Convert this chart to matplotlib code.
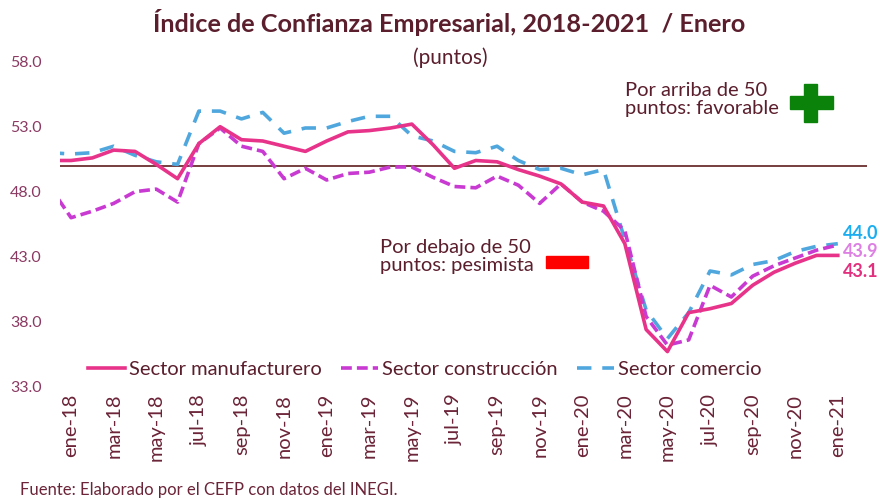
import numpy as np
import matplotlib.pyplot as plt
from matplotlib.patches import Rectangle

plt.rcParams['font.family'] = ['Lato', 'DejaVu Sans']

# Colores
GUINDA = '#5B1E2D'
ROSA = '#E8338A'
MORADO = '#C93AD2'
AZUL = '#4FA7DE'

meses = ['ene', 'feb', 'mar', 'abr', 'may', 'jun',
         'jul', 'ago', 'sep', 'oct', 'nov', 'dic']
# La serie arranca en dic-17, que queda recortado por el borde del eje
periodos = ['dic-17'] + ['%s-%d' % (m, a) for a in (18, 19, 20)
                         for m in meses] + ['ene-21']

manufacturero = [50.4, 50.4, 50.6, 51.2, 51.1, 50.1, 49.0, 51.7, 53.0, 52.0,
                 51.9, 51.5, 51.1, 51.9, 52.6, 52.7, 52.9, 53.2, 51.6, 49.8,
                 50.4, 50.3, 49.7, 49.2, 48.6, 47.2, 46.9, 44.0, 37.4, 35.7,
                 38.7, 39.0, 39.4, 40.8, 41.8, 42.5, 43.1, 43.1]
construccion = [48.4, 46.0, 46.5, 47.1, 48.0, 48.2, 47.2, 51.7, 52.9, 51.5,
                51.1, 49.0, 49.8, 48.9, 49.4, 49.5, 49.9, 49.9, 49.1, 48.4,
                48.3, 49.2, 48.5, 47.1, 48.6, 47.2, 46.5, 45.0, 38.4, 36.2,
                36.6, 40.8, 39.9, 41.5, 42.3, 42.9, 43.5, 43.9]
comercio = [51.0, 50.9, 51.0, 51.5, 50.8, 50.3, 50.1, 54.2, 54.2, 53.6,
            54.1, 52.5, 52.9, 52.9, 53.4, 53.8, 53.8, 52.3, 51.9, 51.1,
            51.0, 51.5, 50.4, 49.7, 49.8, 49.3, 49.7, 44.3, 38.9, 36.7,
            38.7, 41.9, 41.6, 42.4, 42.7, 43.4, 43.8, 44.0]

umbral = 50
y_ticks = [33, 38, 43, 48, 53, 58]

x = np.arange(len(periodos)) - 1

fig = plt.figure(figsize=(8.82, 5.0), dpi=100)
ax = fig.add_axes([60 / 882, 1 - 386.7 / 500, 807 / 882, 325 / 500])

# Linea de referencia en 50 puntos
ax.axhline(umbral, color='#6B2F2F', linewidth=1.3, zorder=1)

ax.plot(x, manufacturero, color=ROSA, linewidth=2.6, zorder=4,
        label='Sector manufacturero')
ax.plot(x, construccion, color=MORADO, linewidth=2.6, zorder=3,
        dashes=(3, 1.4), label='Sector construcción')
ax.plot(x, comercio, color=AZUL, linewidth=2.6, zorder=2,
        dashes=(4, 3), label='Sector comercio')

ax.set_xlim(-0.52, 37.37)
ax.set_ylim(33, 58)

ax.set_yticks(y_ticks)
ax.set_yticklabels(['%.1f' % v for v in y_ticks])
ax.set_xticks(x[1::2])
ax.set_xticklabels(periodos[1::2], rotation=90)
ax.tick_params(axis='y', length=0, pad=13, labelsize=11.5,
               labelcolor='#8B3A62')
ax.tick_params(axis='x', length=0, pad=5, labelsize=14.5,
               labelcolor='#6B2438')

for spine in ax.spines.values():
    spine.set_visible(False)

# Etiquetas de los valores finales
finales = [(comercio[-1], '#1AAEF0', 7.5),
           (construccion[-1], '#DD7FE3', -5),
           (manufacturero[-1], '#E2307E', -11.5)]
for valor, color, dy in finales:
    ax.annotate('%.1f' % valor, xy=(x[-1], valor), xytext=(4, dy),
                textcoords='offset points', ha='left', va='center',
                fontsize=13, fontweight='bold', color=color)

leg = ax.legend(loc='center', bbox_to_anchor=(0.452, 0.052), ncol=3,
                frameon=False, fontsize=14.5, handlelength=1.8,
                handletextpad=0.2, columnspacing=1.0)
for txt in leg.get_texts():
    txt.set_color(GUINDA)

# Titulos
fig.text(0.509, 0.955, 'Índice de Confianza Empresarial, 2018-2021  / Enero',
         ha='center', va='center', fontsize=18.2, fontweight='bold',
         color=GUINDA)
fig.text(0.51, 0.885, '(puntos)', ha='center', va='center', fontsize=15,
         color=GUINDA)

# Notas con simbolos
fig.text(625 / 882, 1 - 82 / 500, 'Por arriba de 50\npuntos: favorable',
         ha='left', va='top', fontsize=14.5, color=GUINDA, linespacing=1.1)
fig.text(380 / 882, 1 - 239 / 500, 'Por debajo de 50\npuntos: pesimista',
         ha='left', va='top', fontsize=14.5, color=GUINDA, linespacing=1.1)

verde = '#0B830B'
fig.patches.append(Rectangle((790 / 882, 1 - 109.3 / 500), 42.7 / 882,
                             13.3 / 500, transform=fig.transFigure,
                             color=verde))
fig.patches.append(Rectangle((804.3 / 882, 1 - 122.3 / 500), 13 / 882,
                             38.3 / 500, transform=fig.transFigure,
                             color=verde))
fig.patches.append(Rectangle((545.7 / 882, 1 - 268.3 / 500), 42.6 / 882,
                             12.6 / 500, transform=fig.transFigure,
                             color='#FF0000'))

fig.text(20 / 882, 1 - 490 / 500,
         'Fuente: Elaborado por el CEFP con datos del INEGI.',
         ha='left', va='center', fontsize=12, color='#6B2438')

fig.savefig('out.png', dpi=100)
